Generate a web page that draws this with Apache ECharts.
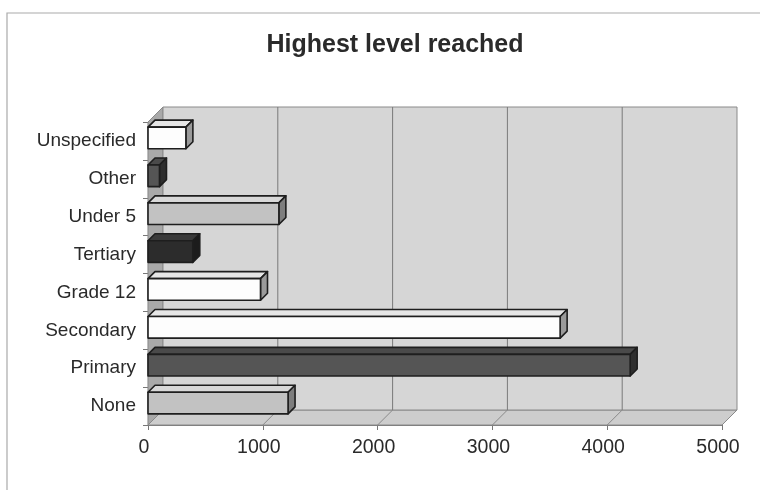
<!DOCTYPE html>
<html><head><meta charset="utf-8">
<script src="https://cdn.jsdelivr.net/npm/echarts@6/dist/echarts.min.js"></script>
<style>html,body{margin:0;padding:0;background:#fff}#c{width:760px;height:490px}</style>
</head><body><div id="c"></div>
<script>
const categories = ['None','Primary','Secondary','Grade 12','Tertiary','Under 5','Other','Unspecified'];
const values = [1220, 4200, 3590, 980, 390, 1140, 100, 330];
const xTicks = [0, 1000, 2000, 3000, 4000, 5000];
const barShades = ['light','dark','white','white','black','light','dark','white'];

const shadeMap = {
  white: {front:'#fdfdfd', top:'#e6e6e6', side:'#9a9a9a'},
  light: {front:'#c2c2c2', top:'#d8d8d8', side:'#7e7e7e'},
  dark:  {front:'#555555', top:'#4a4a4a', side:'#2e2e2e'},
  black: {front:'#2c2c2c', top:'#3a3a3a', side:'#1c1c1c'}
};
const D = 15, d = 7;

const chart = echarts.init(document.getElementById('c'));
chart.setOption({
  animation:false,
  backgroundColor:'#fff',
  title:{text:'Highest level reached', left:390, textAlign:'center', top:28,
    textStyle:{fontFamily:'Liberation Sans', fontSize:25, fontWeight:'bold', color:'#2a2a2a'}},
  graphic:[{type:'polyline', shape:{points:[[7,490],[7,13],[760,13]]}, style:{stroke:'#aaa', lineWidth:1.2, fill:null}, z:-10}],
  grid:{left:148, right:38, top:122, bottom:65},
  xAxis:{type:'value', min:0, max:5000, interval:1000,
    axisLine:{show:true, lineStyle:{color:'#777', width:1.2}},
    axisTick:{show:true, length:5, lineStyle:{color:'#777'}},
    splitLine:{show:false},
    axisLabel:{fontFamily:'Liberation Sans', fontSize:19.5, color:'#2a2a2a', margin:13,
      padding:[0,8,0,0],
      formatter:function(v){return String(v);}}},
  yAxis:{type:'category', data:categories,
    axisLine:{show:true, lineStyle:{color:'#777', width:1.2}},
    axisTick:{show:true, length:5, lineStyle:{color:'#777'}},
    axisLabel:{fontFamily:'Liberation Sans', fontSize:19, color:'#2a2a2a', margin:12,
      padding:[3,0,0,0]}},
  series:[
    {type:'custom', z:1, silent:true, data:[[0,0]], encode:{x:0,y:1},
      renderItem:function(params, api){
        const cs = params.coordSys;
        const x=cs.x, y=cs.y, w=cs.width, h=cs.height;
        const children = [];
        children.push({type:'polygon', shape:{points:[[x,y],[x+D,y-D],[x+D,y+h-D],[x,y+h]]}, style:{fill:'#a9a9a9', stroke:'#8a8a8a', lineWidth:1}});
        children.push({type:'polygon', shape:{points:[[x,y+h],[x+D,y+h-D],[x+w+D,y+h-D],[x+w,y+h]]}, style:{fill:'#cdcdcd', stroke:'#8a8a8a', lineWidth:1}});
        children.push({type:'rect', shape:{x:x+D, y:y-D, width:w, height:h}, style:{fill:'#d6d6d6', stroke:'#8a8a8a', lineWidth:1}});
        xTicks.forEach(function(v){
          const px = api.coord([v, 0])[0];
          if (v>0 && v<5000) children.push({type:'line', shape:{x1:px+D, y1:y-D, x2:px+D, y2:y+h-D}, style:{stroke:'#7a7a7a', lineWidth:1}});
          if (v>0) children.push({type:'line', shape:{x1:px, y1:y+h, x2:px+D, y2:y+h-D}, style:{stroke:'#8a8a8a', lineWidth:1}});
        });
        return {type:'group', children:children};
      }},
    {type:'custom', z:5, silent:true,
      data: values.map(function(v,i){return [v,i];}), encode:{x:0,y:1},
      renderItem:function(params, api){
        const i = api.value(1);
        const s = api.coord([0, i]);
        const e = api.coord([api.value(0), i]);
        const band = api.size([0,1])[1];
        const fh = band*0.57;
        const c = s[1];
        const yb = c + fh/2 - 3, yt = yb - fh;
        const x0 = s[0], x1 = e[0];
        const col = shadeMap[barShades[params.dataIndex]];
        const st = {stroke:'#1e1e1e', lineWidth:1.6, lineJoin:'round'};
        return {type:'group', children:[
          {type:'polygon', shape:{points:[[x0,yt],[x1,yt],[x1+d,yt-d],[x0+d,yt-d]]}, style:Object.assign({fill:col.top}, st)},
          {type:'polygon', shape:{points:[[x1,yt],[x1+d,yt-d],[x1+d,yb-d],[x1,yb]]}, style:Object.assign({fill:col.side}, st)},
          {type:'rect', shape:{x:x0, y:yt, width:x1-x0, height:fh}, style:Object.assign({fill:col.front}, st)}
        ]};
      }}
  ]
});
</script></body></html>
